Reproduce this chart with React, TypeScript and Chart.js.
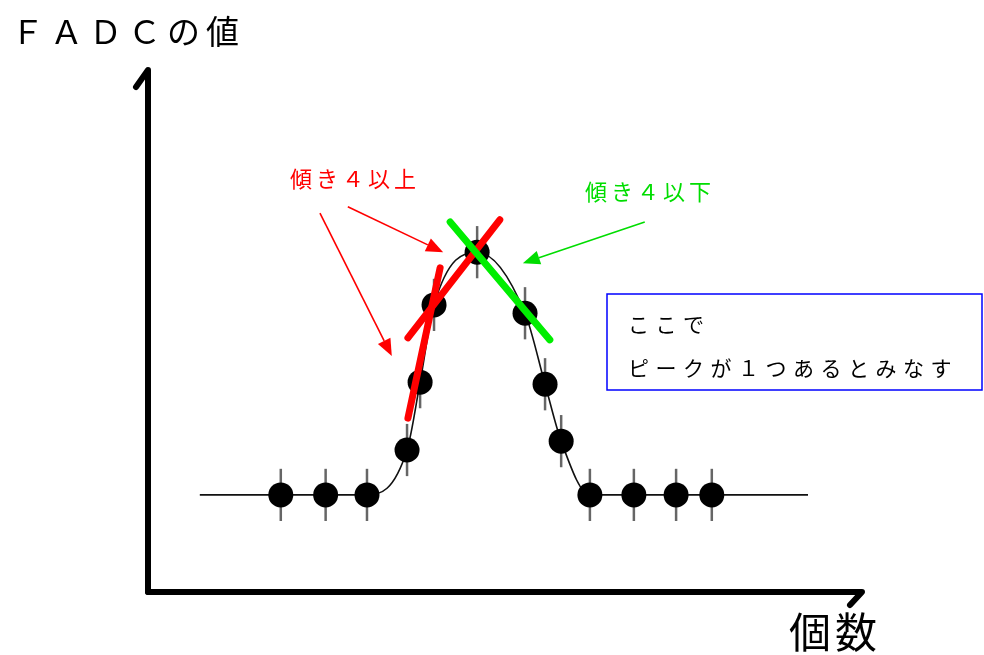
import React, { useEffect, useRef } from "react";
import { Chart, registerables } from "chart.js";
Chart.register(...registerables);

// ---- data (x: bin index units, y: FADC value units) ----
const pointX = [3.05, 4.08, 5.03, 5.95, 6.25, 6.57, 7.56, 8.66, 9.12, 9.49, 10.15, 11.16, 12.13, 12.95];
const pointY = [18.6, 18.6, 18.6, 27.2, 40.2, 55.0, 65.1, 53.4, 39.8, 28.9, 18.6, 18.6, 18.6, 18.6];
const errorHalf = [5, 5, 5, 5, 5, 5, 5, 5, 5, 5, 5, 5, 5, 5];

const curveX = [1.19, 3.05, 5.03, 5.95, 6.25, 6.57, 7.56, 8.66, 9.12, 9.49, 10.15, 15.16];
const curveY = [18.6, 18.6, 18.6, 27.2, 40.2, 55.0, 65.1, 53.4, 39.8, 28.9, 18.6, 18.6];

const steepRedX = [5.97, 6.71];
const steepRedY = [33.3, 62.1];
const shallowRedX = [5.97, 8.08];
const shallowRedY = [48.7, 71.3];
const greenX = [6.94, 9.23];
const greenY = [70.9, 48.3];

// arrows: [x0, y0, x1, y1] (tip at x1,y1)
const redArrow1 = [4.59, 73.8, 6.78, 65.1];
const redArrow2 = [3.95, 72.6, 5.6, 45.2];
const greenArrow = [11.41, 70.9, 8.61, 63.0];

const yAxisTitle = "ＦＡＤＣの値";
const xAxisTitle = "個数";
const redLabel = "傾き４以上";
const greenLabel = "傾き４以下";
const boxLines = ["ここで", "ピークが１つあるとみなす"];

const X_MAX = 16.4;
const Y_MAX = 100;

const toPts = (xs: number[], ys: number[]) => xs.map((x, i) => ({ x, y: ys[i] }));

const JP = '"Noto Sans CJK JP", "Noto Sans", sans-serif';

const decorPlugin = {
  id: "decor",
  beforeDatasetsDraw(chart: any) {
    const ctx = chart.ctx;
    const xs = chart.scales.x;
    const ys = chart.scales.y;
    // error bars
    ctx.save();
    ctx.strokeStyle = "#666";
    ctx.lineWidth = 2.5;
    pointX.forEach((x, i) => {
      const px = xs.getPixelForValue(x);
      ctx.beginPath();
      ctx.moveTo(px, ys.getPixelForValue(pointY[i] + errorHalf[i]));
      ctx.lineTo(px, ys.getPixelForValue(pointY[i] - errorHalf[i]));
      ctx.stroke();
    });
    ctx.restore();
  },
  afterDraw(chart: any) {
    const ctx = chart.ctx;
    const xs = chart.scales.x;
    const ys = chart.scales.y;
    const ox = xs.getPixelForValue(0);
    const oy = ys.getPixelForValue(0);
    const top = ys.getPixelForValue(Y_MAX);
    const right = xs.getPixelForValue(X_MAX);

    // axes
    ctx.save();
    ctx.strokeStyle = "#000";
    ctx.lineWidth = 6;
    ctx.lineCap = "round";
    ctx.lineJoin = "round";
    ctx.beginPath();
    ctx.moveTo(ox, oy);
    ctx.lineTo(ox, top);
    ctx.lineTo(ox - 12, top + 17);
    ctx.stroke();
    ctx.beginPath();
    ctx.moveTo(ox, oy);
    ctx.lineTo(right, oy);
    ctx.lineTo(right - 12, oy + 13);
    ctx.stroke();
    ctx.restore();

    // arrows
    const arrow = (a: number[], color: string) => {
      const x0 = xs.getPixelForValue(a[0]);
      const y0 = ys.getPixelForValue(a[1]);
      const x1 = xs.getPixelForValue(a[2]);
      const y1 = ys.getPixelForValue(a[3]);
      const ang = Math.atan2(y1 - y0, x1 - x0);
      const L = 17;
      const W = 7;
      const bx = x1 - L * Math.cos(ang);
      const by = y1 - L * Math.sin(ang);
      ctx.save();
      ctx.strokeStyle = color;
      ctx.fillStyle = color;
      ctx.lineWidth = 1.6;
      ctx.beginPath();
      ctx.moveTo(x0, y0);
      ctx.lineTo(bx, by);
      ctx.stroke();
      ctx.beginPath();
      ctx.moveTo(x1, y1);
      ctx.lineTo(bx + W * Math.sin(ang), by - W * Math.cos(ang));
      ctx.lineTo(bx - W * Math.sin(ang), by + W * Math.cos(ang));
      ctx.closePath();
      ctx.fill();
      ctx.restore();
    };
    arrow(redArrow1, "#ff0000");
    arrow(redArrow2, "#ff0000");
    arrow(greenArrow, "#00dd00");

    // texts
    const text = (s: string, x: number, y: number, size: number, spacing: number, color: string) => {
      ctx.save();
      ctx.font = `${size}px ${JP}`;
      (ctx as any).letterSpacing = `${spacing}px`;
      ctx.fillStyle = color;
      ctx.textBaseline = "middle";
      ctx.textAlign = "left";
      ctx.fillText(s, x, y);
      ctx.restore();
    };
    text(yAxisTitle, 11, 31, 33, 6, "#000");
    text(xAxisTitle, 789, 632, 42, 4, "#000");
    text(redLabel, 290, 179, 22, 4, "#ff0000");
    text(greenLabel, 585, 192, 22, 4, "#00dd00");

    // box
    ctx.save();
    ctx.strokeStyle = "#0000ff";
    ctx.lineWidth = 1.5;
    ctx.strokeRect(607, 294, 375, 96);
    ctx.restore();
    text(boxLines[0], 628, 324, 21, 6.5, "#000");
    text(boxLines[1], 628, 368, 21, 6.5, "#000");
  },
};

export default function App() {
  const ref = useRef<HTMLCanvasElement>(null);
  useEffect(() => {
    document.body.style.margin = "0";
    const chart = new Chart(ref.current!, {
      type: "scatter",
      data: {
        datasets: [
          {
            label: "steep",
            data: toPts(steepRedX, steepRedY),
            showLine: true,
            borderColor: "#ff0000",
            borderWidth: 7,
            borderCapStyle: "round",
            pointRadius: 0,
            order: 0,
          },
          {
            label: "shallow",
            data: toPts(shallowRedX, shallowRedY),
            showLine: true,
            borderColor: "#ff0000",
            borderWidth: 7,
            borderCapStyle: "round",
            pointRadius: 0,
            order: 0,
          },
          {
            label: "green",
            data: toPts(greenX, greenY),
            showLine: true,
            borderColor: "#00ee00",
            borderWidth: 7,
            borderCapStyle: "round",
            pointRadius: 0,
            order: -1,
          },
          {
            label: "points",
            data: toPts(pointX, pointY),
            showLine: false,
            backgroundColor: "#000",
            borderColor: "#000",
            pointRadius: 12.5,
            pointBorderWidth: 0,
            order: 1,
          },
          {
            label: "curve",
            data: toPts(curveX, curveY),
            showLine: true,
            borderColor: "#111",
            borderWidth: 1.6,
            cubicInterpolationMode: "monotone",
            pointRadius: 0,
            order: 2,
          },
        ] as any,
      },
      options: {
        responsive: false,
        animation: false,
        devicePixelRatio: 1,
        layout: { padding: { left: 148, right: 122, top: 70, bottom: 63 } },
        plugins: { legend: { display: false }, tooltip: { enabled: false } },
        scales: {
          x: { type: "linear", min: 0, max: X_MAX, display: false },
          y: { type: "linear", min: 0, max: Y_MAX, display: false },
        },
      },
      plugins: [decorPlugin],
    });
    return () => chart.destroy();
  }, []);
  return (
    <div style={{ position: "absolute", left: 0, top: 0, width: 984, height: 655, background: "#fff" }}>
      <canvas ref={ref} width={984} height={655} />
    </div>
  );
}
